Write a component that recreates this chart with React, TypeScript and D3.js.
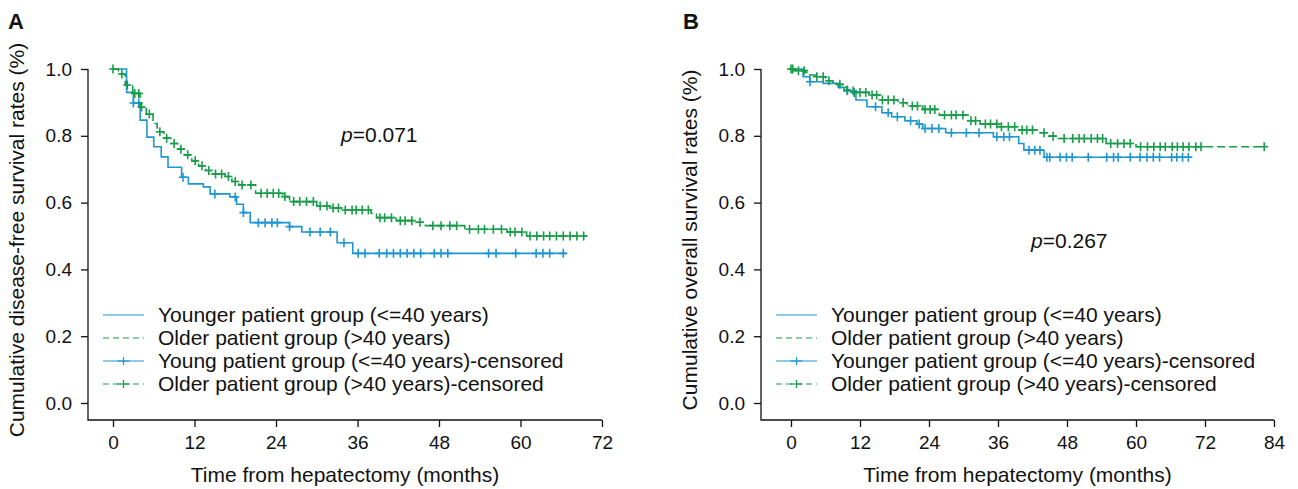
import * as d3 from "d3";
import { useEffect, useRef } from "react";

const W = 1298;
const H = 489;
const FONT = "'Liberation Sans', Arial, sans-serif";
const BLUE = "#1e96d2";
const GREEN = "#179c47";

// ---- panel A: disease-free survival ----
const youngStepsA: [number, number][] = [
  [0, 1], [2.0, 0.93], [3.0, 0.898], [4.0, 0.847], [5.0, 0.796], [6.0, 0.767],
  [7.1, 0.737], [8.1, 0.706], [10.1, 0.676], [11.1, 0.656], [13.3, 0.647],
  [14.3, 0.626], [17.2, 0.617], [18.2, 0.595], [19.2, 0.57], [20.2, 0.54],
  [26.0, 0.528], [27.8, 0.512], [33.0, 0.48], [35.3, 0.448],
];
const youngEndA = 66.8;
const youngCensorA = [
  3.0, 3.8, 10.3, 15.0, 18.0, 19.2, 21.4, 22.4, 23.4, 24.2, 26.0, 29, 30.5, 32, 34,
  36.1, 37.1, 39.2, 40.3, 41.3, 42.3, 43.3, 44.3, 45.3, 47.3, 48.3, 49.3, 55.3,
  56.4, 59.3, 62.3, 63.3, 64.3, 66.3,
];
const olderStepsA: [number, number][] = [
  [0, 1], [0.8, 0.985], [1.8, 0.952], [2.9, 0.927], [4.0, 0.886], [4.9, 0.865],
  [5.9, 0.837], [6.5, 0.812], [7.5, 0.793], [8.5, 0.777], [9.5, 0.76],
  [10.5, 0.743], [11.6, 0.725], [12.6, 0.71], [13.6, 0.696], [14.6, 0.686],
  [16.5, 0.678], [17.5, 0.663], [18.5, 0.653], [21, 0.628], [25, 0.618],
  [26, 0.603], [30, 0.59], [32, 0.584], [34, 0.578], [38, 0.568], [38.8, 0.555],
  [41.7, 0.546], [44.6, 0.541], [46, 0.531], [51.8, 0.52], [58, 0.512],
  [60.9, 0.5],
];
const olderEndA = 69.8;
const olderCensorA = [
  0, 1.3, 2.1, 3.2, 3.8, 4.2, 5.35, 6.9, 7.9, 9.0, 10.0, 11.0, 12.1, 13.1, 14.1,
  15.1, 16.0, 17.0, 18.0, 19.0, 20.3, 21.8, 22.7, 23.6, 24.4, 25.3, 26.6, 27.5,
  28.5, 29.5, 30.5, 31.5, 32.4, 33.2, 34.2, 35.2, 35.8, 36.7, 37.6, 39.3, 40.0,
  41.0, 42.3, 43.0, 44.0, 45.2, 47.1, 48.3, 49.6, 50.6, 52.5, 53.8, 54.7, 56.0,
  57.2, 58.5, 59.2, 60.2, 61.4, 62.4, 63.4, 64.3, 65.3, 66.3, 67.3, 68.3, 69.3,
];

// ---- panel B: overall survival ----
const youngStepsB: [number, number][] = [
  [0, 1], [2.1, 0.977], [3.3, 0.962], [5.6, 0.957], [8.2, 0.945], [9.2, 0.935],
  [11.3, 0.907], [13.2, 0.887], [15.8, 0.869], [17.5, 0.857], [19.8, 0.845],
  [21.9, 0.835], [22.9, 0.822], [26.9, 0.809], [35.2, 0.797], [39.6, 0.777],
  [40.5, 0.757], [44.0, 0.736],
];
const youngEndB = 69.7;
const youngCensorB = [
  3.3, 9.8, 10.8, 14.7, 16.9, 18.5, 20.8, 22.3, 23.3, 24.5, 25.7, 27.9, 30.5, 32.7,
  35.8, 37, 38, 41.4, 42.4, 43.3, 44.5, 45, 46.8, 47.9, 48.9, 51.7, 54.9, 56.1,
  56.9, 59, 60.7, 61.9, 63, 64.1, 66.2, 67.1, 68.1, 69.1,
];
const olderStepsB: [number, number][] = [
  [0, 1], [0.5, 0.995], [2.5, 0.99], [3.3, 0.982], [4.5, 0.977], [6.0, 0.965],
  [7.3, 0.954], [9.2, 0.945], [9.8, 0.937], [10.8, 0.93], [13.6, 0.922],
  [15.6, 0.907], [18.6, 0.899], [20.2, 0.889], [22.9, 0.879], [25.8, 0.862],
  [30.8, 0.845], [32.9, 0.835], [36.0, 0.827], [39.6, 0.817], [42.9, 0.809],
  [44.6, 0.799], [46.3, 0.792], [54.8, 0.777], [60, 0.767],
];
const olderEndB = 82.4;
const olderCensorB = [
  0, 0.3, 1.3, 2.3, 4.5, 5.6, 6.6, 8.5, 9.8, 11, 12, 13, 14.1, 14.9, 15.9, 16.9,
  17.9, 19.5, 21.1, 22, 23.3, 24.2, 25, 26.7, 27.9, 28.7, 29.9, 31.3, 32.1, 33.8,
  34.7, 35.8, 36.6, 37.8, 38.9, 40.2, 41, 42, 44, 45.6, 47.5, 49, 50.1, 51, 52.2,
  53.3, 54.2, 55.6, 56.8, 57.9, 59, 60.8, 62, 63.1, 64.2, 65.1, 66.3, 67.2, 68.2,
  69.2, 70.4, 71.3, 82.3,
];

const yTicks = [0, 0.2, 0.4, 0.6, 0.8, 1.0];
const xTicksA = [0, 12, 24, 36, 48, 60, 72];
const xTicksB = [0, 12, 24, 36, 48, 60, 72, 84];
const legendA = [
  "Younger patient group (<=40 years)",
  "Older patient group (>40 years)",
  "Young patient group (<=40 years)-censored",
  "Older patient group (>40 years)-censored",
];
const legendB = [
  "Younger patient group (<=40 years)",
  "Older patient group (>40 years)",
  "Younger patient group (<=40 years)-censored",
  "Older patient group (>40 years)-censored",
];

const panels = [
  {
    letter: "A", letterX: 8, axisX: 88, x0: 113, x1: 602, xMax: 72, xTicks: xTicksA,
    yTitle: "Cumulative disease-free survival rates (%)", yTitleX: 24,
    p: "0.071", pX: 341, pY: 142,
    young: youngStepsA, youngEnd: youngEndA, youngCensor: youngCensorA,
    older: olderStepsA, olderEnd: olderEndA, olderCensor: olderCensorA,
    legend: legendA,
  },
  {
    letter: "B", letterX: 683, axisX: 761, x0: 791, x1: 1274, xMax: 84, xTicks: xTicksB,
    yTitle: "Cumulative overall survival rates (%)", yTitleX: 697,
    p: "0.267", pX: 1031, pY: 248,
    young: youngStepsB, youngEnd: youngEndB, youngCensor: youngCensorB,
    older: olderStepsB, olderEnd: olderEndB, olderCensor: olderCensorB,
    legend: legendB,
  },
];

const valueAt = (steps: [number, number][], t: number) => {
  let v = steps[0][1];
  for (const [st, sv] of steps) if (st <= t) v = sv;
  return v;
};

const App = () => {
  const svgRef = useRef<SVGSVGElement>(null);

  useEffect(() => {
    const svg = d3.select(svgRef.current);
    svg.selectAll("*").remove();
    const yTop = 69;
    const yBottom = 403;
    const axisY = 420;

    panels.forEach((p) => {
      const g = svg.append("g");
      const x = d3.scaleLinear().domain([0, p.xMax]).range([p.x0, p.x1]);
      const y = d3.scaleLinear().domain([0, 1]).range([yBottom, yTop]);

      // axes
      const xAxis = g
        .append("g")
        .attr("transform", `translate(0, ${axisY})`)
        .call(d3.axisBottom(x).tickValues(p.xTicks).tickSize(7).tickPadding(9).tickSizeOuter(0));
      xAxis.select(".domain").remove();
      const yAxis = g
        .append("g")
        .attr("transform", `translate(${p.axisX}, 0)`)
        .call(
          d3.axisLeft(y).tickValues(yTicks).tickFormat(d3.format(".1f")).tickSize(7).tickPadding(9).tickSizeOuter(0)
        );
      yAxis.select(".domain").remove();
      [xAxis, yAxis].forEach((a) => {
        a.selectAll("text").attr("font-size", 19).attr("font-family", FONT).attr("fill", "#111");
        a.selectAll("line").attr("stroke", "#111").attr("stroke-width", 1.3);
      });
      g.append("path")
        .attr("d", `M${p.axisX},${y(1)}V${axisY}H${x(p.xMax)}`)
        .attr("fill", "none")
        .attr("stroke", "#111")
        .attr("stroke-width", 1.3);

      // titles
      g.append("text")
        .attr("x", (p.axisX + x(p.xMax)) / 2)
        .attr("y", 482)
        .attr("text-anchor", "middle")
        .attr("font-size", 21)
        .attr("font-family", FONT)
        .attr("fill", "#111")
        .text("Time from hepatectomy (months)");
      g.append("text")
        .attr("transform", `translate(${p.yTitleX}, 240) rotate(-90)`)
        .attr("text-anchor", "middle")
        .attr("font-size", 21)
        .attr("font-family", FONT)
        .attr("fill", "#111")
        .text(p.yTitle);
      g.append("text")
        .attr("x", p.letterX)
        .attr("y", 29)
        .attr("font-size", 22)
        .attr("font-weight", "bold")
        .attr("font-family", FONT)
        .attr("fill", "#111")
        .text(p.letter);
      const pt = g
        .append("text")
        .attr("x", p.pX)
        .attr("y", p.pY)
        .attr("font-size", 21)
        .attr("font-family", FONT)
        .attr("fill", "#111");
      pt.append("tspan").attr("font-style", "italic").text("p");
      pt.append("tspan").text("=" + p.p);

      // curves
      const line = d3
        .line<[number, number]>()
        .x((d) => x(d[0]))
        .y((d) => y(d[1]))
        .curve(d3.curveStepAfter);
      const series = [
        { steps: p.young, end: p.youngEnd, censor: p.youngCensor, color: BLUE, dash: null },
        { steps: p.older, end: p.olderEnd, censor: p.olderCensor, color: GREEN, dash: "8,4" },
      ];
      series.forEach((s) => {
        const pts: [number, number][] = [...s.steps, [s.end, s.steps[s.steps.length - 1][1]]];
        g.append("path")
          .attr("d", line(pts))
          .attr("fill", "none")
          .attr("stroke", s.color)
          .attr("stroke-width", 1.6)
          .attr("stroke-dasharray", s.dash);
        const marks = g.append("g").attr("stroke", s.color).attr("stroke-width", 1.6);
        s.censor.forEach((t) => {
          const cx = x(t);
          const cy = y(valueAt(s.steps, t));
          marks.append("path").attr("d", `M${cx},${cy - 4.5}V${cy + 4.5}M${cx - 4},${cy}H${cx + 4}`);
        });
      });

      // legend
      const rows = [315, 338, 361, 384];
      const lx0 = p.axisX + 15;
      const lx1 = p.axisX + 56;
      p.legend.forEach((label, i) => {
        const ly = rows[i];
        const color = i % 2 === 0 ? BLUE : GREEN;
        g.append("line")
          .attr("x1", lx0)
          .attr("x2", lx1)
          .attr("y1", ly)
          .attr("y2", ly)
          .attr("stroke", color)
          .attr("stroke-width", 1.2)
          .attr("stroke-dasharray", i % 2 === 0 ? null : "6,4");
        if (i >= 2) {
          const mx = (lx0 + lx1) / 2;
          g.append("line")
            .attr("x1", mx)
            .attr("x2", mx)
            .attr("y1", ly - 4)
            .attr("y2", ly + 4)
            .attr("stroke", color)
            .attr("stroke-width", 1.2);
          g.append("line")
            .attr("x1", mx - 6)
            .attr("x2", mx + 6)
            .attr("y1", ly)
            .attr("y2", ly)
            .attr("stroke", color)
            .attr("stroke-width", 1.2);
        }
        g.append("text")
          .attr("x", p.axisX + 70)
          .attr("y", ly + 7)
          .attr("font-size", 21)
          .attr("font-family", FONT)
          .attr("fill", "#111")
          .text(label);
      });
    });
  }, []);

  return (
    <svg
      ref={svgRef}
      width={W}
      height={H}
      style={{ position: "absolute", left: 0, top: 0, background: "#fff" }}
    />
  );
};

export default App;
